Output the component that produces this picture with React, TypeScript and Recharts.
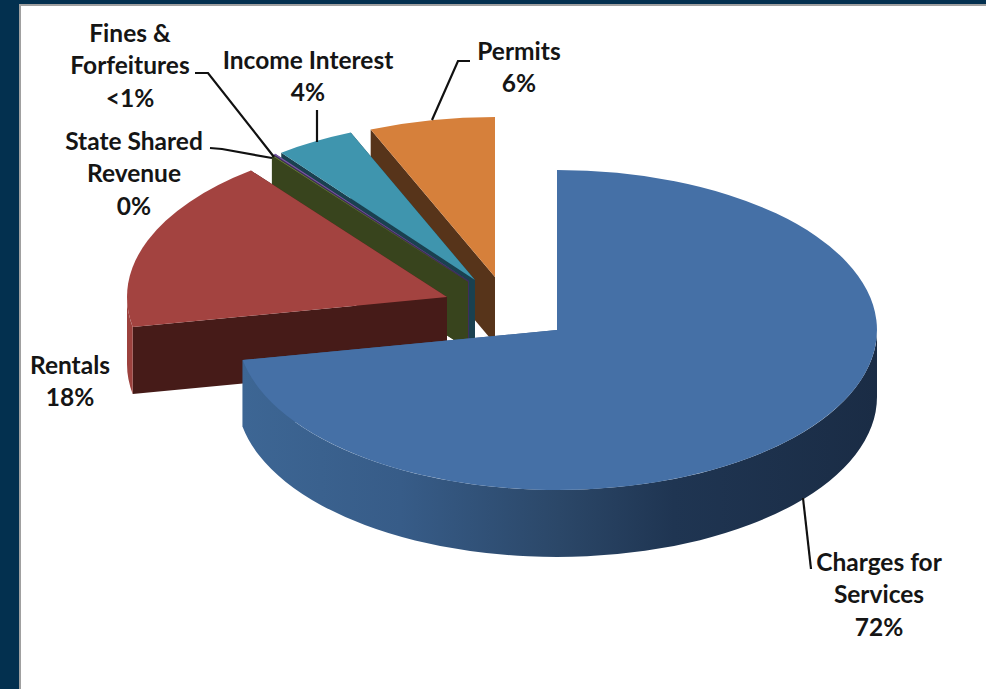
import { PieChart, Pie } from 'recharts';

// revenue sources, drawn back to front so nearer wedges cover farther ones
const names = ['Permits', 'Income Interest', 'Fines & Forfeitures', 'State Shared Revenue', 'Rentals', 'Charges for Services'];
const values = [6.35, 4.0, 0.1, 0.05, 17.5, 72.0];
const percentLabels = ['6%', '4%', '<1%', '0%', '18%', '72%'];
const labelLines = [
  ['Permits', '6%'],
  ['Income Interest', '4%'],
  ['Fines &', 'Forfeitures', '<1%'],
  ['State Shared', 'Revenue', '0%'],
  ['Rentals', '18%'],
  ['Charges for', 'Services', '72%'],
];

const data = names.map((name, i) => ({ name, value: values[i], percent: percentLabels[i] }));

const WIDTH = 986;
const HEIGHT = 689;
const CX = 557;
const CY = 330;
const RX = 320;
const TILT = 0.5;
const DEPTH = 67;

const topColors = ['#d6803b', '#3f95ae', '#7a5aa6', '#76923c', '#a34340', '#4570a6'];
const faceColors = ['#57341a', '#1a4150', '#3f2e5a', '#38441d', '#461b18', '#3a618f'];
const rimColors = ['#57341a', '#1a4150', '#3f2e5a', '#38441d', '#9c413d', 'url(#blueRim)'];

// how far each wedge is pulled away from the pie centre
const explode = [
  [-62, -53],
  [-82, -50],
  [-88, -49],
  [-89, -48],
  [-110, -33],
  [0, 0],
];

// text anchors and leader lines
const labelCenters = [
  { x: 519, y: 50 },
  { x: 308, y: 59 },
  { x: 130, y: 32 },
  { x: 134, y: 140 },
  { x: 70, y: 364 },
  { x: 879, y: 561 },
];
const leaders = [
  '470,61 458,61 432,120',
  '317,110 317,142',
  '195,73 208,73 274,157',
  '210,148 222,149 272,158',
  '',
  '803,498 811,569',
];

const renderSlice = (props: any) => {
  const { startAngle, endAngle, payload, index } = props;
  const i = index ?? names.indexOf(payload?.name ?? props.name);
  const [dx, dy] = explode[i];
  const ox = CX + dx;
  const oy = CY + dy;
  const ry = RX * TILT;
  const pt = (deg: number, drop = 0) => {
    const rad = (deg * Math.PI) / 180;
    return `${ox + RX * Math.cos(rad)} ${oy - ry * Math.sin(rad) + drop}`;
  };
  const large = endAngle - startAngle > 180 ? 1 : 0;
  const top = `M${ox} ${oy} L${pt(startAngle)} A${RX} ${ry} 0 ${large} 0 ${pt(endAngle)} Z`;
  const face = (deg: number) => `M${ox} ${oy} L${pt(deg)} L${pt(deg, DEPTH)} L${ox} ${oy + DEPTH} Z`;
  // only the front half of the outer rim can be seen
  const rimFrom = Math.max(startAngle, 180);
  const rimTo = Math.min(endAngle, 360);
  const rim =
    rimTo > rimFrom
      ? `M${pt(rimFrom)} A${RX} ${ry} 0 0 0 ${pt(rimTo)} L${pt(rimTo, DEPTH)} A${RX} ${ry} 0 0 1 ${pt(rimFrom, DEPTH)} Z`
      : null;
  return (
    <g>
      <path d={face(startAngle)} fill={faceColors[i]} />
      <path d={face(endAngle)} fill={faceColors[i]} />
      {rim && <path d={rim} fill={rimColors[i]} />}
      <path d={top} fill={topColors[i]} />
    </g>
  );
};

const renderLabel = (props: any) => {
  const i = props.index;
  const c = labelCenters[i];
  return (
    <g key={names[i]}>
      {leaders[i] && <polyline points={leaders[i]} fill="none" stroke="#111" strokeWidth={2.2} />}
      <text
        textAnchor="middle"
        fontFamily="Lato, 'Open Sans', sans-serif"
        fontWeight={700}
        fontSize={24.5}
        fill="#151515"
      >
        {labelLines[i].map((line, k) => (
          <tspan key={line} x={c.x} y={c.y + k * 32.5} dominantBaseline="central">
            {line}
          </tspan>
        ))}
      </text>
    </g>
  );
};

export default function App() {
  return (
    <div style={{ position: 'fixed', left: 0, top: 0, width: WIDTH, height: HEIGHT, background: '#fff', overflow: 'hidden' }}>
      <div style={{ position: 'absolute', left: 0, top: 0, width: WIDTH, height: 4, background: '#03304f' }} />
      <div style={{ position: 'absolute', left: 0, top: 4, width: WIDTH, height: 2, background: '#a0a0a0' }} />
      <div style={{ position: 'absolute', left: 19, top: 4, width: 2, height: HEIGHT, background: '#a0a0a0' }} />
      <div style={{ position: 'absolute', left: 0, top: 0, width: 19, height: HEIGHT, background: '#03304f' }} />
      <PieChart width={WIDTH} height={HEIGHT} margin={{ top: 0, right: 0, bottom: 0, left: 0 }}>
        <defs>
          <linearGradient id="blueRim" gradientUnits="userSpaceOnUse" x1={242} y1={0} x2={877} y2={0}>
            <stop offset="0" stopColor="#3d6694" />
            <stop offset="0.25" stopColor="#375c88" />
            <stop offset="0.5" stopColor="#2b4768" />
            <stop offset="0.68" stopColor="#1f3552" />
            <stop offset="1" stopColor="#1a2c45" />
          </linearGradient>
        </defs>
        <Pie
          data={data}
          dataKey="value"
          nameKey="name"
          cx={CX}
          cy={CY}
          outerRadius={RX}
          startAngle={90}
          endAngle={450}
          stroke="none"
          isAnimationActive={false}
          shape={renderSlice}
          label={renderLabel}
          labelLine={false}
        />
      </PieChart>
    </div>
  );
}
